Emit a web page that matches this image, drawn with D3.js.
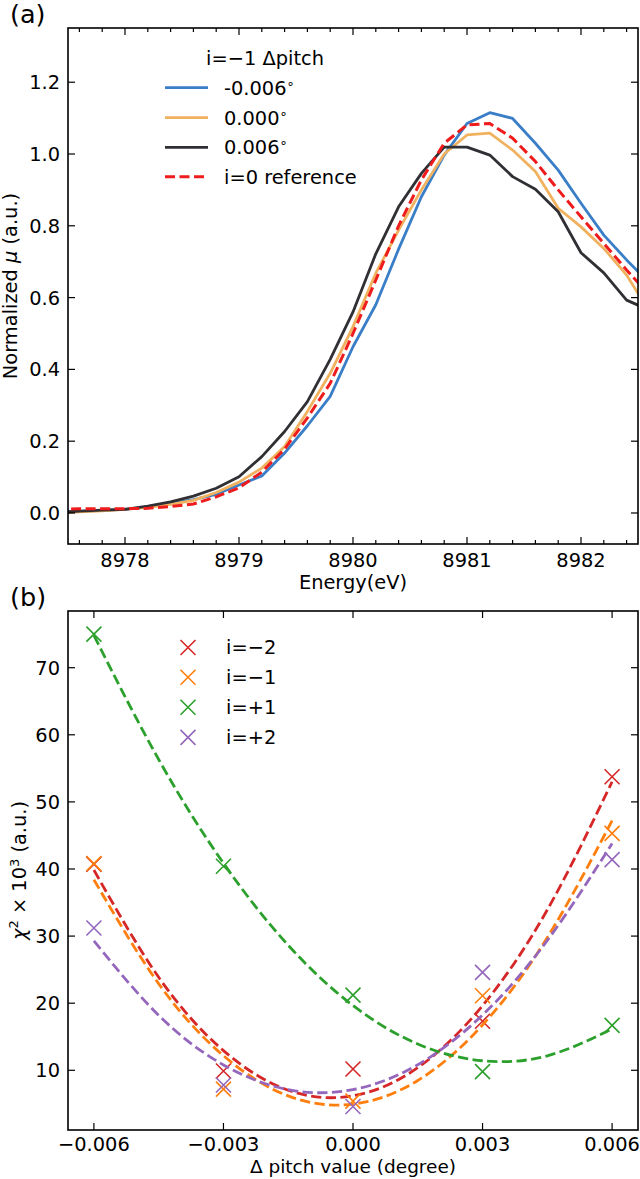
<!DOCTYPE html>
<html><head><meta charset="utf-8">
<script src="https://cdn.jsdelivr.net/npm/d3@7/dist/d3.min.js"></script>
<style>body{margin:0;background:#fff}svg{display:block}text{font-family:"DejaVu Sans",sans-serif;fill:#000}</style>
</head><body>
<script>
// ---------- data: panel (a) ----------
const energy = [8977.4,8977.6,8977.8,8978.0,8978.2,8978.4,8978.6,8978.8,8979.0,8979.2,8979.4,8979.6,8979.8,8980.0,8980.2,8980.4,8980.6,8980.8,8981.0,8981.2,8981.4,8981.6,8981.8,8982.0,8982.2,8982.4,8982.6];
const muNeg006 = [0.002,0.004,0.007,0.010,0.017,0.027,0.037,0.052,0.078,0.103,0.167,0.243,0.325,0.463,0.580,0.735,0.881,0.997,1.085,1.115,1.099,1.030,0.955,0.863,0.774,0.705,0.640];
const muZero   = [0.001,0.003,0.006,0.010,0.016,0.024,0.035,0.057,0.086,0.125,0.185,0.283,0.389,0.519,0.668,0.788,0.900,1.000,1.053,1.058,1.011,0.951,0.849,0.797,0.737,0.663,0.561];
const muPos006 = [0.002,0.005,0.008,0.010,0.019,0.031,0.047,0.069,0.101,0.157,0.227,0.310,0.428,0.560,0.722,0.853,0.946,1.019,1.019,0.997,0.937,0.902,0.839,0.725,0.669,0.593,0.565];
const muRef    = [0.010,0.012,0.012,0.012,0.013,0.018,0.025,0.045,0.070,0.114,0.178,0.265,0.361,0.500,0.649,0.800,0.928,1.030,1.081,1.085,1.044,0.979,0.900,0.825,0.751,0.677,0.607];
const seriesA = ["-0.006", "0.000", "0.006"];
const energyTicks = [8978,8979,8980,8981,8982];
const muTicks = [0,0.2,0.4,0.6,0.8,1.0,1.2];

// ---------- data: panel (b) ----------
const pitch = [-0.006,-0.003,0,0.003,0.006];
const chiM2 = [40.7, 9.9, 10.2, 17.3, 53.75];
const chiM1 = [40.8, 7.2, 5.4, 21.1, 45.3];
const chiP1 = [75.0, 40.4, 21.2, 9.8, 16.7];
const chiP2 = [31.2, 7.8, 4.6, 24.6, 41.4];
const fitPitch = [-0.006,-0.0045,-0.003,-0.0015,0,0.0015,0.003,0.0045,0.006];
const fitM2 = [39.85,23.86,12.93,7.03,6.19,10.39,19.63,33.92,53.0];
const fitM1 = [38.40,22.90,12.17,6.18,4.95,8.48,16.75,29.78,47.2];
const fitP1 = [74.8,56.32,40.86,28.63,19.65,13.91,11.42,12.16,16.15];
const fitP2 = [29.28,18.19,10.80,7.11,7.12,10.83,18.24,29.35,43.8];
const seriesB = ["i=\u22122","i=\u22121","i=+1","i=+2"];
const pitchTicks = [-0.006,-0.003,0,0.003,0.006];
const chiTicks = [10,20,30,40,50,60,70];

const W = 640, H = 1179;
const svg = d3.select("body").append("svg").attr("width", W).attr("height", H);
const FS = 19.4;

function frameAndTicks(g, x, y, xt, xminor, yt, xfmt, yfmt, x0, x1, y0, y1, xlabDy) {
  const tk = 7, mk = 4;
  const tg = g.append("g").attr("stroke", "#000").attr("stroke-width", 1.2);
  xt.forEach(v => {
    tg.append("line").attr("x1", x(v)).attr("x2", x(v)).attr("y1", y1).attr("y2", y1 - tk);
    tg.append("line").attr("x1", x(v)).attr("x2", x(v)).attr("y1", y0).attr("y2", y0 + tk);
  });
  xminor.forEach(v => {
    tg.append("line").attr("x1", x(v)).attr("x2", x(v)).attr("y1", y1).attr("y2", y1 - mk);
    tg.append("line").attr("x1", x(v)).attr("x2", x(v)).attr("y1", y0).attr("y2", y0 + mk);
  });
  yt.forEach(v => {
    tg.append("line").attr("x1", x0).attr("x2", x0 + tk).attr("y1", y(v)).attr("y2", y(v));
    tg.append("line").attr("x1", x1).attr("x2", x1 - tk).attr("y1", y(v)).attr("y2", y(v));
  });
  g.append("rect").attr("x", x0).attr("y", y0).attr("width", x1 - x0).attr("height", y1 - y0)
    .attr("fill", "none").attr("stroke", "#000").attr("stroke-width", 1.6);
  xt.forEach(v => g.append("text").attr("x", x(v)).attr("y", y1 + xlabDy).attr("text-anchor", "middle")
    .attr("font-size", FS).text(xfmt(v)));
  yt.forEach(v => g.append("text").attr("x", x0 - 8).attr("y", y(v)).attr("dy", "0.36em").attr("text-anchor", "end")
    .attr("font-size", FS).text(yfmt(v)));
}

// ================= Panel (a) =================
{
  const x0 = 68, x1 = 638, y0 = 28, y1 = 544;
  const x = d3.scaleLinear().domain([8977.5, 8982.5]).range([x0, x1]);
  const y = d3.scaleLinear().domain([-0.0864, 1.351]).range([y1, y0]);
  const g = svg.append("g");
  g.append("clipPath").attr("id", "clipA").append("rect").attr("x", x0).attr("y", y0).attr("width", x1 - x0).attr("height", y1 - y0);
  const line = d3.line().x((d, i) => x(energy[i])).y(d => y(d));
  const colsA = ["#3a7ec8", "#f1b25f", "#2f2f34"];
  const lg = g.append("g").attr("clip-path", "url(#clipA)").attr("fill", "none");
  [muNeg006, muZero, muPos006].forEach((s, i) => {
    lg.append("path").attr("d", line(s)).attr("stroke", colsA[i]).attr("stroke-width", 2.8).attr("stroke-linejoin", "round");
  });
  lg.append("path").attr("d", line(muRef)).attr("stroke", "#ee1c1c").attr("stroke-width", 3).attr("stroke-dasharray", "10,4.5");

  const minor = d3.range(8977.6, 8982.5, 0.2).filter(v => Math.abs(v - Math.round(v)) > 0.05);
  frameAndTicks(g, x, y, energyTicks, minor, muTicks, d => d3.format("d")(d), d => d3.format(".1f")(d), x0, x1, y0, y1, 23);

  g.append("text").attr("x", (x0 + x1) / 2).attr("y", 589).attr("text-anchor", "middle").attr("font-size", FS).text("Energy(eV)");
  const yl = g.append("text").attr("transform", `translate(17,${(y0 + y1) / 2}) rotate(-90)`).attr("text-anchor", "middle").attr("font-size", FS);
  yl.append("tspan").text("Normalized ");
  yl.append("tspan").attr("font-style", "italic").text("\u03bc");
  yl.append("tspan").text(" (a.u.)");
  svg.append("text").attr("x", 10).attr("y", 22.5).attr("font-size", 25.5).text("(a)");

  // legend
  g.append("text").attr("x", 265).attr("y", 65).attr("text-anchor", "middle").attr("font-size", FS).text("i=\u22121 \u0394pitch");
  const rows = [87.7, 117.7, 147.3, 176.7];
  seriesA.forEach((lab, i) => {
    g.append("line").attr("x1", 165).attr("x2", 208).attr("y1", rows[i]).attr("y2", rows[i]).attr("stroke", colsA[i]).attr("stroke-width", 2.8);
    const t = g.append("text").attr("x", 224).attr("y", rows[i]).attr("dy", "0.36em").attr("font-size", FS);
    t.append("tspan").text(lab);
    t.append("tspan").attr("font-size", 13).attr("dy", "-0.55em").text("\u2218");
  });
  g.append("line").attr("x1", 165).attr("x2", 208).attr("y1", rows[3]).attr("y2", rows[3]).attr("stroke", "#ee1c1c").attr("stroke-width", 3).attr("stroke-dasharray", "10,4.5");
  g.append("text").attr("x", 224).attr("y", rows[3]).attr("dy", "0.36em").attr("font-size", FS).text("i=0 reference");
}

// ================= Panel (b) =================
{
  const x0 = 68, x1 = 638, y0 = 611, y1 = 1130;
  const x = d3.scaleLinear().domain([-0.0066, 0.0066]).range([x0, x1]);
  const y = d3.scaleLinear().domain([1.1, 78.45]).range([y1, y0]);
  const g = svg.append("g");
  const colsB = ["#d62728", "#ff7f0e", "#2ca02c", "#9467bd"];
  const pts = [chiM2, chiM1, chiP1, chiP2];
  const fits = [fitM2, fitM1, fitP1, fitP2];
  const fline = d3.line().x((d, i) => x(fitPitch[i])).y(d => y(d)).curve(d3.curveNatural);
  const ms = 7.5;
  function cross(sel, cx, cy, col) {
    sel.append("path").attr("d", `M${cx - ms},${cy - ms}L${cx + ms},${cy + ms}M${cx - ms},${cy + ms}L${cx + ms},${cy - ms}`)
      .attr("stroke", col).attr("stroke-width", 1.6).attr("fill", "none");
  }
  pts.forEach((s, k) => {
    s.forEach((v, i) => cross(g, x(pitch[i]), y(v), colsB[k]));
    g.append("path").attr("d", fline(fits[k])).attr("fill", "none").attr("stroke", colsB[k])
      .attr("stroke-width", 2.8).attr("stroke-dasharray", "10.3,4.4");
  });
  frameAndTicks(g, x, y, pitchTicks, [], chiTicks, d => d3.format(".3f")(d).replace("-", "\u2212"), d => d3.format("d")(d), x0, x1, y0, y1, 21);

  g.append("text").attr("x", (x0 + x1) / 2).attr("y", 1173).attr("text-anchor", "middle").attr("font-size", 18.5).text("\u0394 pitch value (degree)");
  const yl = g.append("text").attr("transform", `translate(25.5,${(y0 + y1) / 2}) rotate(-90)`).attr("text-anchor", "middle").attr("font-size", FS);
  yl.append("tspan").attr("font-style", "italic").text("\u03c7");
  yl.append("tspan").attr("font-size", 13).attr("dy", "-0.55em").text("2");
  yl.append("tspan").attr("dy", "0.38em").text(" \u00d7 10");
  yl.append("tspan").attr("font-size", 13).attr("dy", "-0.55em").text("3");
  yl.append("tspan").attr("dy", "0.38em").text(" (a.u.)");
  svg.append("text").attr("x", 10).attr("y", 606).attr("font-size", 25.5).text("(b)");

  const rows = [647.5, 677.2, 707.3, 737.4];
  seriesB.forEach((lab, i) => {
    cross(g, 188, rows[i], colsB[i]);
    g.append("text").attr("x", 226).attr("y", rows[i]).attr("dy", "0.36em").attr("font-size", FS).text(lab);
  });
}
</script>
</body></html>
